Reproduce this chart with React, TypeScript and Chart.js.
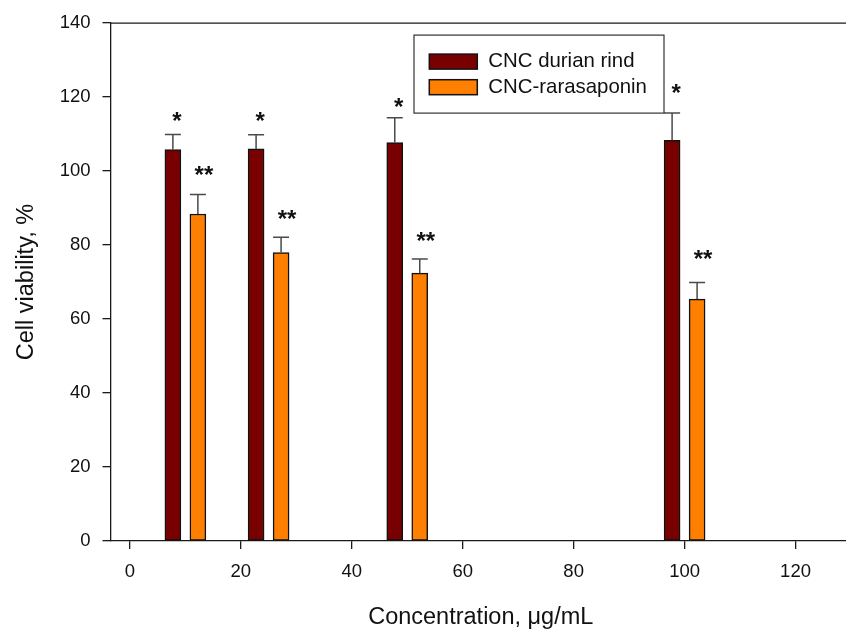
import React, { useEffect, useRef } from "react";
import { Chart, registerables } from "chart.js";

Chart.register(...registerables);

const concentrations = [10, 25, 50, 100];
const seriesLabels = ["CNC durian rind", "CNC-rarasaponin"];
const durianViability = [105.8, 106.0, 107.7, 108.3];
const durianError = [4.1, 3.8, 6.7, 7.4];
const raraViability = [88.4, 78.0, 72.4, 65.4];
const raraError = [5.3, 4.1, 3.8, 4.5];
const durianSig = ["*", "*", "*", "*"];
const raraSig = ["**", "**", "**", "**"];
const durianSigLevel = [114.6, 114.6, 118.3, 122.0];
const raraSigLevel = [99.8, 87.9, 82.1, 77.2];
const xTickValues = [0, 20, 40, 60, 80, 100, 120];
const yTickValues = [0, 20, 40, 60, 80, 100, 120, 140];

const FONT = "Liberation Sans";
const AXIS = "#1a1a1a";

const annotatePlugin = {
  id: "annotate",
  afterDatasetsDraw(chart: any) {
    const ctx = chart.ctx;
    const yScale = chart.scales.y;
    const area = chart.chartArea;
    ctx.save();
    // top frame line
    ctx.strokeStyle = AXIS;
    ctx.lineWidth = 1.3;
    ctx.beginPath();
    ctx.moveTo(area.left, area.top);
    ctx.lineTo(area.right, area.top);
    ctx.stroke();

    chart.data.datasets.forEach((ds: any, di: number) => {
      const meta = chart.getDatasetMeta(di);
      meta.data.forEach((bar: any, i: number) => {
        const { x, y, width } = bar.getProps(["x", "y", "width"], true);
        const v = ds.data[i].y;
        const yErr = yScale.getPixelForValue(v + ds.errors[i]);
        ctx.strokeStyle = "#4a4a4a";
        ctx.lineWidth = 1.5;
        ctx.beginPath();
        ctx.moveTo(x, y);
        ctx.lineTo(x, yErr);
        ctx.moveTo(x - width / 2, yErr);
        ctx.lineTo(x + width / 2, yErr);
        ctx.stroke();
        const s = ds.sig[i];
        ctx.fillStyle = "#111";
        ctx.font = `bold 24px "${FONT}"`;
        ctx.textAlign = "center";
        ctx.textBaseline = "alphabetic";
        ctx.fillText(s, x + (s.length > 1 ? 6 : 4), yScale.getPixelForValue(ds.sigLevel[i]) + 11.5);
      });
    });

    // legend
    const lx = area.left + 303.5;
    const ly = area.top + 12;
    ctx.fillStyle = "#fff";
    ctx.fillRect(lx, ly, 250, 78);
    ctx.strokeStyle = "#333";
    ctx.lineWidth = 1.2;
    ctx.strokeRect(lx, ly, 250, 78);
    chart.data.datasets.forEach((ds: any, di: number) => {
      const sy = ly + 19 + di * 25.6;
      ctx.fillStyle = ds.backgroundColor;
      ctx.fillRect(lx + 15.3, sy, 48, 15);
      ctx.strokeStyle = "#111";
      ctx.lineWidth = 1.5;
      ctx.strokeRect(lx + 15.3, sy, 48, 15);
      ctx.fillStyle = "#111";
      ctx.font = `20.4px "${FONT}"`;
      ctx.textAlign = "left";
      ctx.textBaseline = "middle";
      ctx.fillText(ds.label, lx + 74.3, sy + 7.5);
    });
    ctx.restore();
  },
};

export default function App() {
  const ref = useRef<HTMLCanvasElement | null>(null);
  useEffect(() => {
    if (!ref.current) return;
    const chart = new Chart(ref.current, {
      type: "bar",
      data: {
        datasets: [
          {
            label: seriesLabels[0],
            data: concentrations.map((c, i) => ({ x: c, y: durianViability[i] })),
            backgroundColor: "#780000",
            borderColor: "#111",
            borderWidth: 1.5,
            borderSkipped: false,
            barThickness: 25,
            maxBarThickness: 16,
            errors: durianError,
            sig: durianSig,
            sigLevel: durianSigLevel,
          } as any,
          {
            label: seriesLabels[1],
            data: concentrations.map((c, i) => ({ x: c, y: raraViability[i] })),
            backgroundColor: "#ff8000",
            borderColor: "#111",
            borderWidth: 1.5,
            borderSkipped: false,
            barThickness: 25,
            maxBarThickness: 16,
            errors: raraError,
            sig: raraSig,
            sigLevel: raraSigLevel,
          } as any,
        ],
      },
      options: {
        responsive: false,
        animation: false,
        layout: { padding: { top: 20.7, left: 0, right: 0, bottom: 0 } },
        plugins: { legend: { display: false }, tooltip: { enabled: false } },
        scales: {
          x: {
            type: "linear",
            min: -3.5,
            max: 130,
            offset: false,
            afterBuildTicks: (s: any) => {
              s.ticks = xTickValues.map((v) => ({ value: v }));
            },
            afterFit: (s: any) => {
              s.height = 88;
            },
            grid: { drawOnChartArea: false, drawTicks: true, tickLength: 8, color: AXIS, lineWidth: 1.3, offset: false },
            border: { display: true, color: AXIS, width: 1.3 },
            ticks: { font: { family: FONT, size: 18.5 }, color: "#111", padding: 12, maxRotation: 0, autoSkip: false },
            title: {
              display: true,
              text: "Concentration, μg/mL",
              font: { family: FONT, size: 23.5, lineHeight: 1 },
              color: "#111",
              padding: 0,
            },
          },
          y: {
            min: 0,
            max: 140,
            afterBuildTicks: (s: any) => {
              s.ticks = yTickValues.map((v) => ({ value: v }));
            },
            afterFit: (s: any) => {
              s.width = 110.5;
            },
            grid: { drawOnChartArea: false, drawTicks: true, tickLength: 8, color: AXIS, lineWidth: 1.3 },
            border: { display: true, color: AXIS, width: 1.3 },
            ticks: { font: { family: FONT, size: 18.5 }, color: "#111", padding: 12, autoSkip: false },
            title: {
              display: true,
              text: "Cell viability, %",
              font: { family: FONT, size: 23.5, lineHeight: 1.2 },
              color: "#111",
              padding: { top: 12, bottom: 0 },
            },
          },
        },
      } as any,
      plugins: [annotatePlugin],
    });
    return () => chart.destroy();
  }, []);
  return (
    <div style={{ position: "absolute", left: 0, top: 0, width: 846, height: 629, overflow: "hidden", background: "#fff" }}>
      <canvas ref={ref} width={851} height={629} style={{ display: "block" }} />
    </div>
  );
}
